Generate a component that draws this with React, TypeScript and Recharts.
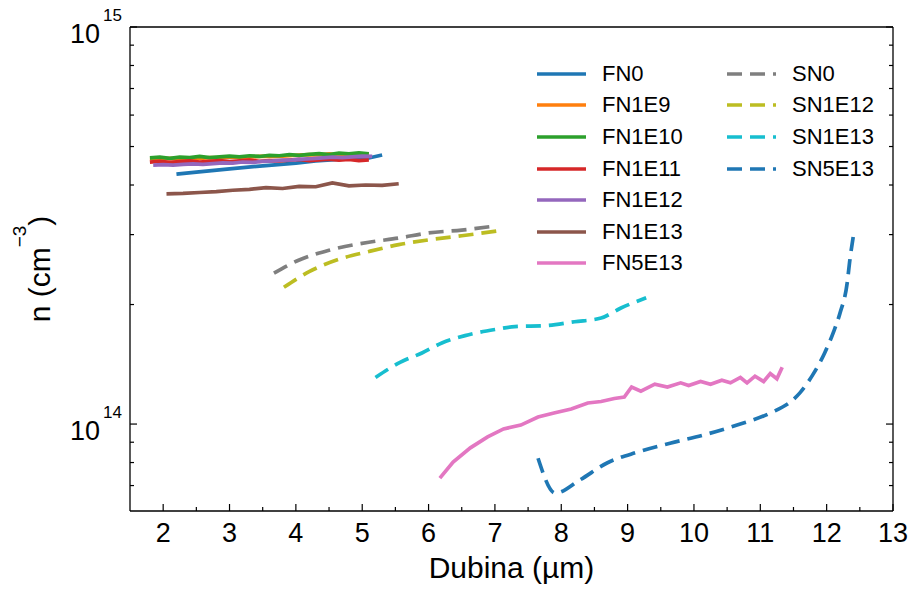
import { LineChart, Line, XAxis, YAxis } from "recharts";

const E14 = 1e14;
const Y_MIN = 6.04e13;
const Y_MAX = 1e15;

const X_MAJOR = [2, 3, 4, 5, 6, 7, 8, 9, 10, 11, 12, 13];
const X_MINOR = [2.5, 3.5, 4.5, 5.5, 6.5, 7.5, 8.5, 9.5, 10.5, 11.5, 12.5];
const Y_MAJOR = [1e14, 1e15];
const Y_MINOR = [7e13, 8e13, 9e13, 2e14, 3e14, 4e14, 5e14, 6e14, 7e14, 8e14, 9e14];

// densities are in units of 1e14 cm^-3
const FN0_X = [2.2, 2.5, 3.0, 3.5, 4.0, 4.3, 4.7, 5.1, 5.3];
const FN0_N = [4.26, 4.31, 4.39, 4.47, 4.54, 4.6, 4.65, 4.68, 4.76];

const FN_X = [1.8, 1.95, 2.1, 2.25, 2.4, 2.55, 2.7, 2.85, 3.0, 3.15, 3.3, 3.45, 3.6, 3.75, 3.9, 4.05, 4.2, 4.35, 4.5, 4.65, 4.8, 4.95, 5.1];
const FN1E9_N = [4.66, 4.65, 4.67, 4.66, 4.68, 4.67, 4.69, 4.68, 4.7, 4.71, 4.7, 4.72, 4.73, 4.72, 4.74, 4.76, 4.77, 4.76, 4.79, 4.76, 4.78, 4.77, 4.76];
const FN1E10_N = [4.68, 4.7, 4.67, 4.7, 4.69, 4.72, 4.69, 4.71, 4.73, 4.71, 4.74, 4.72, 4.75, 4.74, 4.77, 4.75, 4.78, 4.8, 4.77, 4.81, 4.79, 4.82, 4.79];
const FN1E11_N = [4.57, 4.59, 4.56, 4.58, 4.6, 4.57, 4.59, 4.61, 4.58, 4.6, 4.62, 4.59, 4.61, 4.6, 4.62, 4.64, 4.61, 4.63, 4.65, 4.62, 4.64, 4.61, 4.63];

const FN1E12_X = [1.85, 2.0, 2.15, 2.3, 2.45, 2.6, 2.75, 2.9, 3.05, 3.2, 3.35, 3.5, 3.65, 3.8, 3.95, 4.1, 4.25, 4.4, 4.55, 4.7, 4.85, 5.0, 5.15];
const FN1E12_N = [4.49, 4.5, 4.49, 4.51, 4.52, 4.51, 4.53, 4.55, 4.54, 4.57, 4.56, 4.59, 4.6, 4.62, 4.63, 4.65, 4.66, 4.68, 4.7, 4.69, 4.71, 4.73, 4.72];

const FN1E13_X = [2.05, 2.3, 2.55, 2.8, 3.05, 3.3, 3.55, 3.8, 4.05, 4.3, 4.55, 4.8, 5.05, 5.3, 5.55];
const FN1E13_N = [3.8, 3.81, 3.83, 3.85, 3.88, 3.9, 3.94, 3.92, 3.97, 3.96, 4.05, 3.98, 4.0, 3.99, 4.03];

const FN5E13_X = [6.17, 6.37, 6.63, 6.89, 7.13, 7.39, 7.65, 7.89, 8.15, 8.4, 8.6, 8.8, 8.95, 9.06, 9.2, 9.41, 9.6, 9.8, 9.92, 10.1, 10.25, 10.42, 10.55, 10.7, 10.8, 10.92, 11.05, 11.15, 11.25, 11.33];
const FN5E13_N = [0.731, 0.802, 0.871, 0.928, 0.972, 0.994, 1.042, 1.066, 1.091, 1.13, 1.14, 1.16, 1.17, 1.24, 1.21, 1.26, 1.24, 1.27, 1.25, 1.28, 1.26, 1.29, 1.27, 1.31, 1.27, 1.32, 1.28, 1.34, 1.3, 1.39];

const SN0_X = [3.67, 4.05, 4.5, 5.1, 5.55, 6.0, 6.5, 6.98];
const SN0_N = [2.4, 2.59, 2.74, 2.87, 2.94, 3.03, 3.08, 3.15];

const SN1E12_X = [3.82, 4.2, 4.65, 5.1, 5.55, 6.0, 6.5, 7.08];
const SN1E12_N = [2.21, 2.42, 2.6, 2.72, 2.83, 2.91, 2.98, 3.07];

const SN1E13_X = [5.2, 5.57, 5.9, 6.2, 6.55, 7.0, 7.3, 7.77, 8.2, 8.6, 8.9, 9.28];
const SN1E13_N = [1.31, 1.43, 1.51, 1.6, 1.67, 1.73, 1.76, 1.77, 1.81, 1.85, 1.96, 2.08];

const SN5E13_X = [7.65, 7.91, 8.28, 8.69, 9.14, 9.64, 10.14, 10.65, 11.15, 11.49, 11.6, 11.79, 11.97, 12.1, 12.2, 12.31, 12.35, 12.4];
const SN5E13_N = [0.82, 0.67, 0.723, 0.798, 0.849, 0.895, 0.938, 0.994, 1.066, 1.15, 1.2, 1.33, 1.51, 1.7, 1.9, 2.27, 2.59, 2.96];

const FONT = "'Liberation Sans', Arial, sans-serif";
const DASH = "15 8";
const LW = 3.7;

const SERIES = [
  { name: "FN0", xs: FN0_X, ns: FN0_N, color: "#1f77b4", dashed: false },
  { name: "FN1E9", xs: FN_X, ns: FN1E9_N, color: "#ff7f0e", dashed: false },
  { name: "FN1E10", xs: FN_X, ns: FN1E10_N, color: "#2ca02c", dashed: false },
  { name: "FN1E11", xs: FN_X, ns: FN1E11_N, color: "#d62728", dashed: false },
  { name: "FN1E12", xs: FN1E12_X, ns: FN1E12_N, color: "#9467bd", dashed: false },
  { name: "FN1E13", xs: FN1E13_X, ns: FN1E13_N, color: "#8c564b", dashed: false },
  { name: "FN5E13", xs: FN5E13_X, ns: FN5E13_N, color: "#e377c2", dashed: false },
  { name: "SN0", xs: SN0_X, ns: SN0_N, color: "#7f7f7f", dashed: true },
  { name: "SN1E12", xs: SN1E12_X, ns: SN1E12_N, color: "#bcbd22", dashed: true },
  { name: "SN1E13", xs: SN1E13_X, ns: SN1E13_N, color: "#17becf", dashed: true },
  { name: "SN5E13", xs: SN5E13_X, ns: SN5E13_N, color: "#1f77b4", dashed: true },
];

function BottomTick({ x, y, payload }: any) {
  const major = X_MAJOR.includes(payload.value);
  return (
    <g>
      <line x1={x} x2={x} y1={y} y2={y - (major ? 7 : 4)} stroke="#000" strokeWidth={1.2} />
      {major && (
        <text x={x} y={y + 31} textAnchor="middle" fontSize={27} fontFamily={FONT} fill="#000">
          {payload.value}
        </text>
      )}
    </g>
  );
}

function TopTick({ x, y, payload }: any) {
  const major = X_MAJOR.includes(payload.value);
  return <line x1={x} x2={x} y1={y} y2={y + (major ? 7 : 4)} stroke="#000" strokeWidth={1.2} />;
}

function LeftTick({ x, y, payload }: any) {
  const major = Y_MAJOR.includes(payload.value);
  const exp = Math.round(Math.log10(payload.value));
  return (
    <g>
      <line x1={x} x2={x + (major ? 7 : 4)} y1={y} y2={y} stroke="#000" strokeWidth={1.2} />
      {major && (
        <text x={x - 8} y={y + 16} textAnchor="end" fontSize={27} fontFamily={FONT} fill="#000">
          <tspan>10</tspan>
          <tspan dx={3} dy={-22} fontSize={17}>
            {exp}
          </tspan>
        </text>
      )}
    </g>
  );
}

function RightTick({ x, y, payload }: any) {
  const major = Y_MAJOR.includes(payload.value);
  return <line x1={x} x2={x - (major ? 7 : 4)} y1={y} y2={y} stroke="#000" strokeWidth={1.2} />;
}

function XLabel({ viewBox }: any) {
  return (
    <text x={viewBox.x + viewBox.width / 2} y={viewBox.y + 67} textAnchor="middle" fontSize={30} fontFamily={FONT} fill="#000">
      Dubina (µm)
    </text>
  );
}

function YLabel({ viewBox }: any) {
  const cx = 50;
  const cy = viewBox.y + viewBox.height / 2;
  return (
    <text x={cx} y={cy} transform={`rotate(-90, ${cx}, ${cy})`} textAnchor="middle" fontSize={30} fontFamily={FONT} fill="#000">
      n (cm
      <tspan dy={-24} fontSize={19}>
        −3
      </tspan>
      <tspan dy={24}>)</tspan>
    </text>
  );
}

function LegendBox() {
  return (
    <div
      style={{
        position: "absolute",
        left: 537,
        top: 58,
        display: "grid",
        gridTemplateColumns: "190px auto",
        gridTemplateRows: "repeat(7, 31.6px)",
        gridAutoFlow: "column",
        fontFamily: FONT,
        fontSize: 22,
        color: "#000",
      }}
    >
      {SERIES.map((s) => (
        <div key={s.name} style={{ display: "flex", alignItems: "center", gap: 16, lineHeight: 1 }}>
          <svg width={49} height={10}>
            <line x1={0} x2={49} y1={5} y2={5} stroke={s.color} strokeWidth={LW} strokeDasharray={s.dashed ? DASH : undefined} />
          </svg>
          <span>{s.name}</span>
        </div>
      ))}
    </div>
  );
}

export default function App() {
  const axisLine = { stroke: "#000", strokeWidth: 1.3 };
  return (
    <div style={{ position: "absolute", left: 0, top: 0, width: 912, height: 591, background: "#fff", fontFamily: FONT }}>
      <LineChart width={912} height={591} margin={{ top: 0, right: 0, bottom: 0, left: 0 }}>
        <XAxis
          xAxisId="bottom"
          dataKey="x"
          type="number"
          domain={[1.5, 13]}
          allowDataOverflow
          ticks={[...X_MAJOR, ...X_MINOR]}
          interval={0}
          height={80}
          tickSize={0}
          tickMargin={0}
          tickLine={false}
          axisLine={axisLine}
          tick={<BottomTick />}
          label={<XLabel />}
        />
        <XAxis
          xAxisId="top"
          orientation="top"
          type="number"
          domain={[1.5, 13]}
          allowDataOverflow
          ticks={[...X_MAJOR, ...X_MINOR]}
          interval={0}
          height={27}
          tickSize={0}
          tickMargin={0}
          tickLine={false}
          axisLine={axisLine}
          tick={<TopTick />}
        />
        <YAxis
          yAxisId="left"
          type="number"
          scale="log"
          domain={[Y_MIN, Y_MAX]}
          allowDataOverflow
          ticks={[...Y_MAJOR, ...Y_MINOR]}
          interval={0}
          width={130}
          tickSize={0}
          tickMargin={0}
          tickLine={false}
          axisLine={axisLine}
          tick={<LeftTick />}
          label={<YLabel />}
        />
        <YAxis
          yAxisId="right"
          orientation="right"
          type="number"
          scale="log"
          domain={[Y_MIN, Y_MAX]}
          allowDataOverflow
          ticks={[...Y_MAJOR, ...Y_MINOR]}
          interval={0}
          width={19}
          tickSize={0}
          tickMargin={0}
          tickLine={false}
          axisLine={axisLine}
          tick={<RightTick />}
        />
        {SERIES.map((s) => (
          <Line
            key={s.name}
            name={s.name}
            xAxisId="bottom"
            yAxisId="left"
            data={s.xs.map((x, i) => ({ x, n: s.ns[i] * E14 }))}
            dataKey="n"
            type={s.dashed ? "monotone" : "linear"}
            stroke={s.color}
            strokeWidth={LW}
            strokeDasharray={s.dashed ? DASH : undefined}
            dot={false}
            activeDot={false}
            isAnimationActive={false}
          />
        ))}
      </LineChart>
      <LegendBox />
    </div>
  );
}
